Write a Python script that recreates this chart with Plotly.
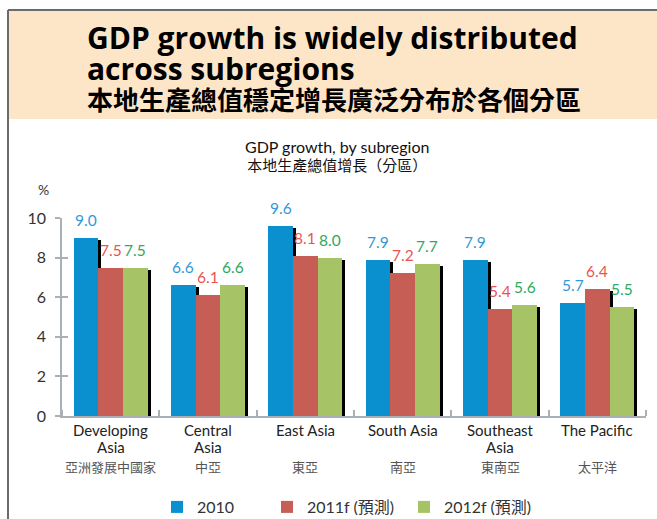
import plotly.graph_objects as go

# ---------------- data ----------------
categories_en = ["Developing<br>Asia", "Central<br>Asia", "East Asia", "South Asia", "Southeast<br>Asia", "The Pacific"]
categories_zh = ["亞洲發展中國家", "中亞", "東亞", "南亞", "東南亞", "太平洋"]
series_names = ["2010", "2011f (預測)", "2012f (預測)"]
gdp_2010 = [9.0, 6.6, 9.6, 7.9, 7.9, 5.7]
gdp_2011f = [7.5, 6.1, 8.1, 7.2, 5.4, 6.4]
gdp_2012f = [7.5, 6.6, 8.0, 7.7, 5.6, 5.5]
y_ticks = [0, 2, 4, 6, 8, 10]

title_en = ["GDP growth is widely distributed", "across subregions"]
title_zh = "本地生產總值穩定增長廣泛分布於各個分區"
subtitle_en = "GDP growth, by subregion"
subtitle_zh = "本地生產總值增長（分區）"

# ---------------- style ----------------
W, H = 657, 519
ML, MR, MT, MB = 62, 11, 218, 103
PW, PH = W - ML - MR, H - MT - MB
bar_colors = ["#0a8fcf", "#c65e56", "#a6c466"]
label_colors = ["#3399d8", "#e8554f", "#2fa862"]
FONT = "Lato, 'Noto Sans CJK TC', sans-serif"
TFONT = "'Open Sans', 'Noto Sans CJK TC', sans-serif"
CJK = "'Noto Sans CJK TC', sans-serif"

def px_x(p):
    return (p - ML) / PW

def px_y(p):
    return (H - MB - p) / PH

x_idx = list(range(len(categories_en)))
bar_w = 0.2536
offsets = [-1.5 * bar_w, -0.5 * bar_w, 0.5 * bar_w]
shadow_dx = 3 / PW * len(categories_en)   # 3 px in data units
shadow_dy = 2 / PH * 10                   # 2 px in value units
legend_ids = ["legend", "legend2", "legend3"]
legend_left_px = [157, 267, 404]

fig = go.Figure()
series = [gdp_2010, gdp_2011f, gdp_2012f]
for s, (name, vals) in enumerate(zip(series_names, series)):
    fig.add_trace(go.Bar(
        x=x_idx, y=[v - shadow_dy for v in vals], width=bar_w, offset=offsets[s] + shadow_dx,
        marker=dict(color="black", line=dict(width=0)), showlegend=False, hoverinfo="skip"))
    fig.add_trace(go.Bar(
        x=x_idx, y=vals, width=bar_w, offset=offsets[s], name=name, legend=legend_ids[s],
        marker=dict(color=bar_colors[s], line=dict(width=0))))

annotations = []
# data labels
for s, vals in enumerate(series):
    for i, v in enumerate(vals):
        annotations.append(dict(
            x=i + offsets[s] + bar_w / 2, y=v, xref="x", yref="y",
            text=f"{v:.1f}", showarrow=False, yanchor="bottom", yshift=7,
            font=dict(family=FONT, size=15.5, color=label_colors[s])))

# category labels
for i, (en, zh) in enumerate(zip(categories_en, categories_zh)):
    for li, line in enumerate(en.split("<br>")):
        annotations.append(dict(
            x=i, y=0, xref="x", yref="paper", text=line, showarrow=False,
            yanchor="middle", yshift=-(430 - (H - MB)) - 17 * li,
            font=dict(family=FONT, size=15, color="#222")))
    annotations.append(dict(
        x=i, y=0, xref="x", yref="paper", text=zh, showarrow=False,
        yanchor="middle", yshift=-(466 - (H - MB)),
        font=dict(family=CJK, size=13, color="#555")))

# titles (one text block each, line spacing set by the base font size)
title_text = (f"<span style='font-size:30px'><b>{title_en[0]}</b></span><br>"
              f"<span style='font-size:30px'><b>{title_en[1]}</b></span><br>"
              f"<span style='font-family:Noto Sans CJK TC;font-size:26px'><b>{title_zh}</b></span>")
subtitle_text = (f"<span style='font-size:16px'>{subtitle_en}</span><br>"
                 f"<span style='font-family:Noto Sans CJK TC;font-size:15px'>{subtitle_zh}</span>")
annotations += [
    dict(x=px_x(85), y=px_y(67), xref="paper", yref="paper", text=title_text,
         showarrow=False, xanchor="left", yanchor="middle", align="left",
         font=dict(family=TFONT, size=23.5, color="#000")),
    dict(x=px_x(337), y=px_y(156), xref="paper", yref="paper", text=subtitle_text,
         showarrow=False, xanchor="center", yanchor="middle", align="center",
         font=dict(family=FONT, size=14, color="#111")),
    dict(x=px_x(43), y=px_y(189), xref="paper", yref="paper", text="%",
         showarrow=False, xanchor="center", yanchor="middle",
         font=dict(family=FONT, size=14, color="#333")),
]

shapes = [
    dict(type="rect", xref="paper", yref="paper", x0=px_x(8), x1=px_x(W + 5),
         y0=px_y(119), y1=px_y(10), fillcolor="#fde6c8", line=dict(width=0), layer="below"),
    dict(type="line", xref="paper", yref="paper", x0=px_x(8), x1=px_x(W + 5),
         y0=px_y(10), y1=px_y(10), line=dict(color="#6b6b6b", width=2)),
    dict(type="line", xref="paper", yref="paper", x0=px_x(8), x1=px_x(8),
         y0=px_y(10), y1=px_y(H + 5), line=dict(color="#6b6b6b", width=2)),
]

legend_common = dict(orientation="h", xanchor="left", yanchor="middle",
                     font=dict(family=FONT, size=16, color="#333"),
                     bgcolor="rgba(0,0,0,0)", borderwidth=0)
legends = {}
for lid, lx in zip(legend_ids, legend_left_px):
    legends[lid] = dict(legend_common, x=px_x(lx), y=px_y(507))

fig.update_layout(
    width=W, height=H, autosize=False,
    margin=dict(l=ML, r=MR, t=MT, b=MB, autoexpand=False),
    paper_bgcolor="white", plot_bgcolor="white",
    barmode="overlay", bargap=0,
    font=dict(family=FONT, size=15, color="#333"),
    annotations=annotations, shapes=shapes,
    xaxis=dict(range=[-0.5, len(categories_en) - 0.5], showgrid=False, zeroline=False,
               showticklabels=False, showline=True, linecolor="#a9b0b7", linewidth=1.5,
               tickvals=[], ticks="",
               minor=dict(tick0=-0.5, dtick=1, ticks="inside", ticklen=6,
                          tickcolor="#a9b0b7", tickwidth=1.5)),
    yaxis=dict(range=[0, 10], tickvals=y_ticks, showgrid=False, zeroline=False,
               showline=True, linecolor="#a9b0b7", linewidth=1.5,
               ticks="outside", ticklen=5, tickcolor="#a9b0b7", tickwidth=1.5,
               tickfont=dict(family=FONT, size=16, color="#333"), ticklabelstandoff=6),
    yaxis2=dict(range=[0, 10], tickvals=y_ticks, overlaying="y", side="left",
                showgrid=False, zeroline=False, showline=False, showticklabels=False,
                ticks="inside", ticklen=6, tickcolor="#a9b0b7", tickwidth=1.5),
    **legends,
)
fig.add_trace(go.Scatter(x=[None], y=[None], yaxis="y2", showlegend=False, hoverinfo="skip"))

fig.write_html("out.html", config={"displayModeBar": False},
               post_script="document.body.style.margin='0px';document.body.style.overflow='hidden';")
